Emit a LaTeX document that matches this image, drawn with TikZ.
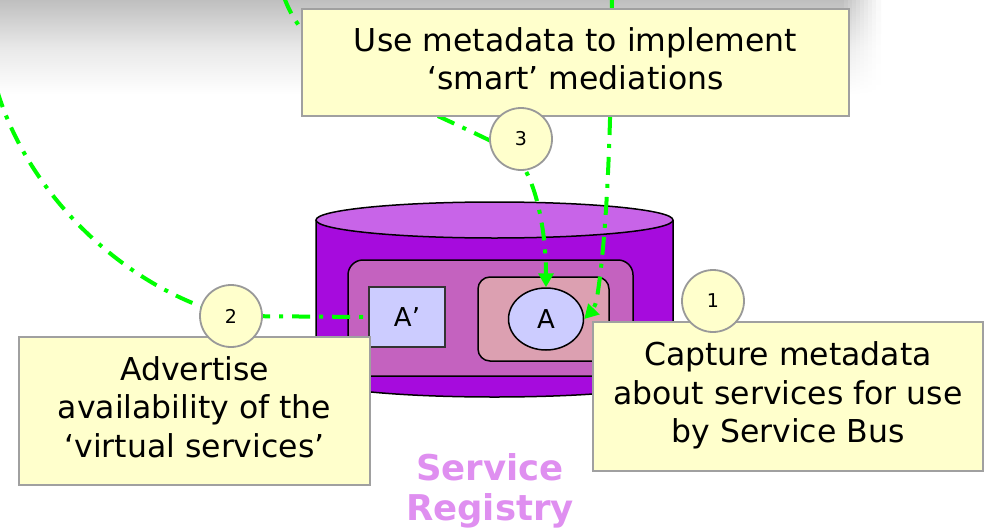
\documentclass[tikz,border=0pt]{standalone}
\usepackage{fontspec}
\setmainfont{DejaVu Sans}
\usetikzlibrary{arrows.meta,shapes.geometric}

\definecolor{bggray}{HTML}{BFBFBF}
\definecolor{notefill}{HTML}{FFFFCC}
\definecolor{noteline}{HTML}{A0A0A0}
\definecolor{dotline}{HTML}{999999}
\definecolor{cylside}{HTML}{A60BDD}
\definecolor{cyltop}{HTML}{C864E8}
\definecolor{bandfill}{HTML}{C462BF}
\definecolor{slotfill}{HTML}{DCA0B1}
\definecolor{svcfill}{HTML}{CCCCFF}
\definecolor{flow}{HTML}{00FF00}
\definecolor{regtext}{HTML}{DF8FF0}

\tikzset{
  note/.style={draw=noteline, line width=2pt, fill=notefill, align=center,
    inner sep=0pt, text depth=8pt,
    font=\fontsize{31.5}{38.5}\selectfont},
  badge/.style={circle, draw=dotline, line width=1.8pt, fill=notefill,
    minimum size=62pt, inner sep=0pt, font=\fontsize{19}{22}\selectfont},
  flowline/.style={draw=flow, line width=4pt,
    dash pattern=on 18pt off 9pt on 4pt off 9pt},
  flowtip/.style={-{Triangle[length=14pt,width=15pt]}},
  regbox/.style={draw=black, line width=1.5pt},
}

\begin{document}
\begin{tikzpicture}[x=1pt,y=-1pt]
  \useasboundingbox (0,0) rectangle (984,530);

  % grey header wash, fading out towards the right
  \fill[top color=bggray, bottom color=white, middle color=bggray!35!white]
    (0,0) rectangle (841,95);
  \foreach \i in {0,...,9}{
    \pgfmathsetmacro{\pct}{100-10*\i}
    \fill[top color=bggray!\pct!white, bottom color=white,
      middle color=bggray!\pct!white!35!white]
      (840+4*\i,0) rectangle (845+4*\i,95);
  }

  % registry cylinder
  \fill[cylside] (316,220) -- (316,379) arc[start angle=180, end angle=360,
    x radius=178.5pt, y radius=18pt] -- (673,220) -- cycle;
  \draw[line width=1.5pt] (316,220) -- (316,379) arc[start angle=180, end angle=360,
    x radius=178.5pt, y radius=18pt] -- (673,220);
  \draw[line width=1.5pt, fill=cyltop] (494.5,220) ellipse[x radius=178.5pt, y radius=18pt];

  \draw[regbox, fill=bandfill, rounded corners=15pt] (348,260) rectangle (633,376);
  \draw[regbox, fill=slotfill, rounded corners=12pt] (478,277) rectangle (609,361);

  \node[draw=black!80, line width=1.5pt, fill=svcfill, minimum width=76pt,
    minimum height=60pt, inner sep=0pt, font=\fontsize{26}{30}\selectfont]
    (Av) at (407,317) {A’};
  \node[ellipse, draw=black, line width=1.5pt, fill=svcfill, minimum width=75pt,
    minimum height=62pt, inner sep=0pt, font=\fontsize{26}{30}\selectfont]
    (A) at (546,319) {A};

  % free ends of the flows
  \coordinate (top1) at (612,-3);
  \coordinate (top3) at (284,-3);
  \coordinate (left2) at (-3,90);

  % badge positions, so flows can pass through them
  \coordinate (c1) at (713,301);
  \coordinate (c2) at (231,316);
  \coordinate (c3) at (521,139);

  % flows
  \draw[flowline, flowtip] (top1) .. controls (611,150) and (606,240) .. (597,298)
    .. controls (596,306) and (590,313) .. (A.east);
  \draw[flowline, flowtip] (top3) .. controls (310,70) and (400,95) .. (505,148)
    .. controls (535,163) and (546,230) .. (A.north);
  \draw[flowline] (left2) .. controls (30,200) and (130,290) .. (c2)
    -- (Av.west);

  % notes
  \node[note, minimum width=547pt, minimum height=107pt] (n3) at (575.5,62.5)
    {Use metadata to implement\\‘smart’ mediations};
  \node[note, minimum width=351pt, minimum height=148pt] (n2) at (194.5,411)
    {Advertise\\availability of the\\‘virtual services’};
  \node[note, minimum width=390pt, minimum height=149pt] (n1) at (788,396.5)
    {Capture metadata\\about services for use\\by Service Bus};

  % numbered badges
  \node[badge] (b1) at (c1) {1};
  \node[badge] (b2) at (c2) {2};
  \node[badge] (b3) at (c3) {3};

  \node[align=center, inner sep=0pt, text=regtext,
    font=\fontsize{35.5}{40}\selectfont\bfseries] (reg) at (490,491)
    {Service\\Registry};
\end{tikzpicture}
\end{document}
